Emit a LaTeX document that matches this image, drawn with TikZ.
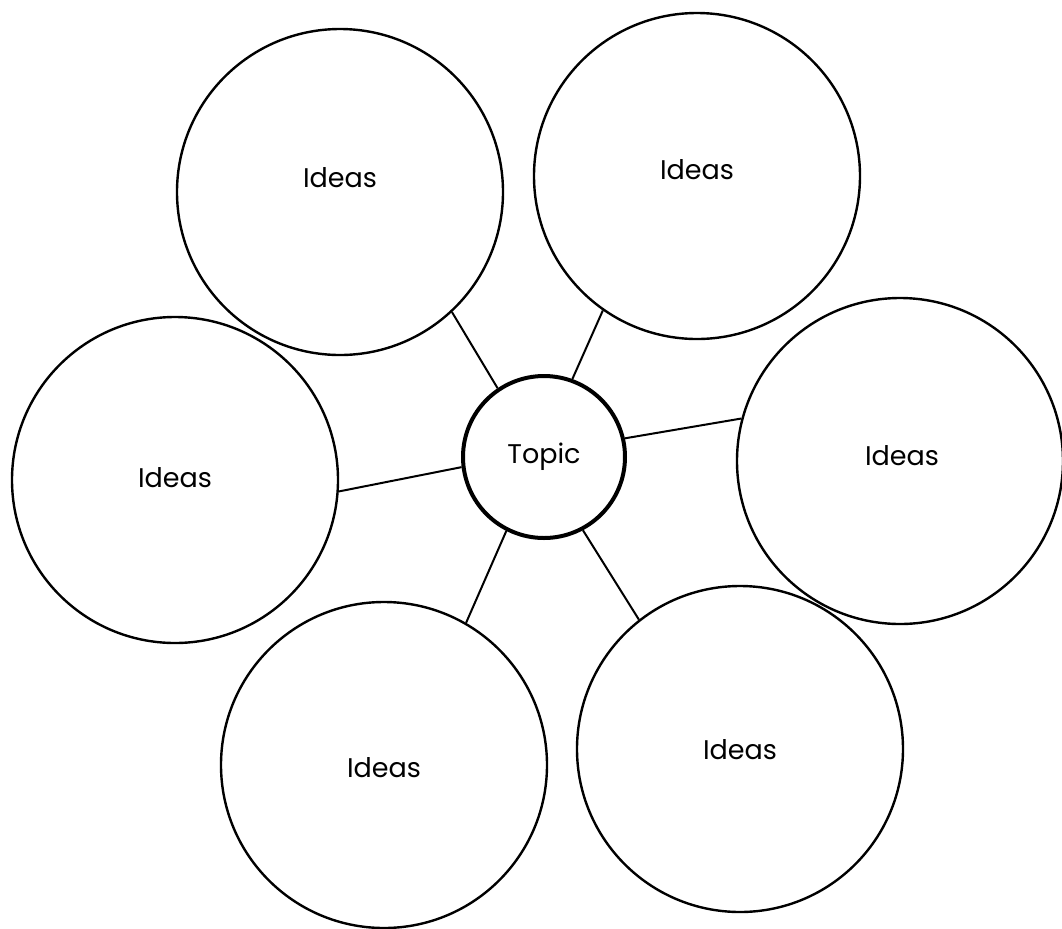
\documentclass[tikz,border=0pt]{standalone}
\usepackage{fontspec}
\setmainfont{Poppins}
\begin{document}
\begin{tikzpicture}[x=0.5pt,y=-0.5pt,
  idea/.style={draw=black,circle,line width=1.2pt,minimum size=163pt,inner sep=0pt},
  txt/.style={inner sep=0pt,font=\fontsize{13.5}{16}\selectfont},
  topicc/.style={draw=black,circle,line width=2pt,minimum size=81pt,inner sep=0pt,font=\fontsize{13.5}{16}\selectfont},
  link/.style={draw=black,line width=1pt}]
\useasboundingbox[fill=white] (0,0) rectangle (1062,928);
\node[topicc] (topic) at (544,457) {Topic};
\node[idea] (tl) at (340,192) {};
\node[idea] (tr) at (697,176) {};
\node[idea] (l) at (175,480) {};
\node[idea] (r) at (900,461) {};
\node[idea] (bl) at (384,765) {};
\node[idea] (br) at (740,749) {};
\node[txt] (tltxt) at (340,178) {Ideas};
\node[txt] (trtxt) at (697,170) {Ideas};
\node[txt] (ltxt) at (175,478) {Ideas};
\node[txt] (rtxt) at (902,456) {Ideas};
\node[txt] (bltxt) at (384,768) {Ideas};
\node[txt] (brtxt) at (740,750) {Ideas};
\draw[link] (topic.124.5) -- (tl.-47);
\draw[link] (topic.70) -- (tr.-125);
\draw[link] (topic.187) -- (l.-4);
\draw[link] (topic.13) -- (r.165);
\draw[link] (topic.243) -- (bl.60);
\draw[link] (topic.298) -- (br.128);
\end{tikzpicture}
\end{document}
